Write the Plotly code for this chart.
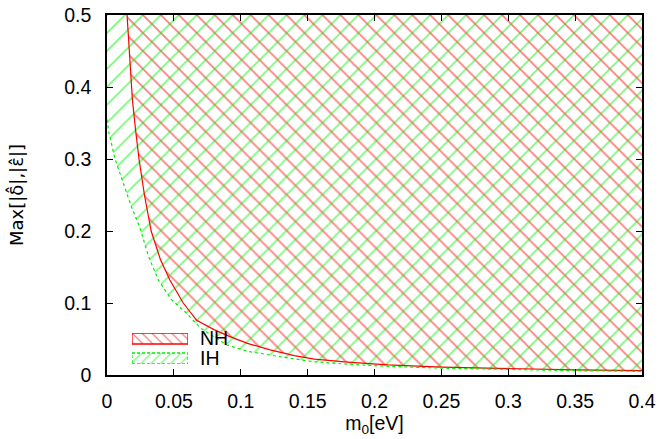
import plotly.graph_objects as go

# NH (normal hierarchy) lower boundary of allowed region
nh_m0 = [0.0150, 0.0170, 0.0190, 0.0215, 0.0240, 0.0280, 0.0330, 0.0400, 0.0470,
         0.0570, 0.0670, 0.0800, 0.0910, 0.1050, 0.1220, 0.1400, 0.1550, 0.1800,
         0.2100, 0.2500, 0.3000, 0.3500, 0.4000]
nh_max = [0.500, 0.440, 0.382, 0.338, 0.299, 0.250, 0.200, 0.160, 0.132,
          0.100, 0.076, 0.063, 0.054, 0.044, 0.035, 0.027, 0.022, 0.018,
          0.014, 0.011, 0.0085, 0.007, 0.006]

# IH (inverted hierarchy) lower boundary of allowed region
ih_m0 = [0.0, 0.0015, 0.0060, 0.0122, 0.0180, 0.0247, 0.0310, 0.0384, 0.0480,
         0.0596, 0.0700, 0.0895, 0.1050, 0.1290, 0.1540, 0.1800, 0.2100, 0.2500,
         0.3000, 0.3500, 0.4000]
ih_max = [0.355, 0.336, 0.300, 0.266, 0.235, 0.204, 0.165, 0.132, 0.105,
          0.0856, 0.065, 0.0417, 0.033, 0.0255, 0.0185, 0.015, 0.012, 0.0095,
          0.0075, 0.006, 0.005]

series_names = ["NH", "IH"]

x_range = [0, 0.4]
y_range = [0, 0.5]
x_ticks = [0, 0.05, 0.1, 0.15, 0.2, 0.25, 0.3, 0.35, 0.4]
x_ticklabels = ["0", "0.05", "0.1", "0.15", "0.2", "0.25", "0.3", "0.35", "0.4"]
y_ticks = [0, 0.1, 0.2, 0.3, 0.4, 0.5]
y_ticklabels = ["0", "0.1", "0.2", "0.3", "0.4", "0.5"]

RED = "#ff0000"
GREEN = "#00ee00"
FONT = "Liberation Sans, Arial, sans-serif"
FS = 19.5
HATCH = 12.7

def region(xs, ys):
    # close polygon along the top of the plotting range
    px = list(xs) + [x_range[1], xs[0]]
    py = list(ys) + [y_range[1], y_range[1]]
    return px, py

fig = go.Figure()

px, py = region(nh_m0, nh_max)
fig.add_trace(go.Scatter(
    x=px, y=py, fill="toself", mode="lines", line=dict(width=0, color=RED),
    fillcolor="rgba(0,0,0,0)",
    fillpattern=dict(shape="\\", fgcolor=RED, bgcolor="rgba(0,0,0,0)", size=HATCH, solidity=0.14),
    showlegend=False, hoverinfo="skip"))

px, py = region(ih_m0, ih_max)
fig.add_trace(go.Scatter(
    x=px, y=py, fill="toself", mode="lines", line=dict(width=0, color=GREEN),
    fillcolor="rgba(0,0,0,0)",
    fillpattern=dict(shape="/", fgcolor=GREEN, bgcolor="rgba(0,0,0,0)", size=HATCH, solidity=0.14),
    showlegend=False, hoverinfo="skip"))

fig.add_trace(go.Scatter(x=nh_m0, y=nh_max, mode="lines",
                         line=dict(color=RED, width=1.2), showlegend=False))
fig.add_trace(go.Scatter(x=ih_m0, y=ih_max, mode="lines",
                         line=dict(color=GREEN, width=1.2, dash="3px,3px"), showlegend=False))

# gnuplot-style key: hatched sample boxes on an invisible overlay subplot
key_box_x = [0, 1, 1, 0, 0]
key_rows = [(0.645, 1.0), (0.0, 0.355)]
key_styles = [(RED, "\\", "solid"), (GREEN, "/", "3px,2px")]
for (y0, y1), (col, shp, dsh) in zip(key_rows, key_styles):
    fig.add_trace(go.Scatter(
        x=key_box_x, y=[y0, y0, y1, y1, y0], xaxis="x2", yaxis="y2",
        mode="lines", fill="toself", fillcolor="rgba(0,0,0,0)",
        fillpattern=dict(shape=shp, fgcolor=col, bgcolor="rgba(0,0,0,0)", size=7, solidity=0.18),
        line=dict(color=col, width=1.3, dash=dsh), showlegend=False, hoverinfo="skip"))

axis_common = dict(showgrid=False, zeroline=False, showline=True, linecolor="black",
                   linewidth=1.5, mirror="ticks", ticks="inside", ticklen=6,
                   tickcolor="black", tickwidth=1, automargin=False,
                   tickfont=dict(family=FONT, size=FS, color="black"))

hidden = dict(visible=False, showgrid=False, zeroline=False, fixedrange=True, automargin=False)

fig.update_layout(
    xaxis=dict(range=x_range, tickvals=x_ticks, ticktext=x_ticklabels, ticklabelstandoff=8,
               title=dict(text="m<sub>0</sub>[eV]", font=dict(family=FONT, size=FS, color="black"),
                          standoff=3),
               **axis_common),
    yaxis=dict(range=y_range, tickvals=y_ticks, ticktext=y_ticklabels, ticklabelstandoff=10,
               title=dict(text="Max[|\u03b4\u0302|,|\u03b5\u0302|]",
                          font=dict(family="DejaVu Sans, Liberation Sans, sans-serif",
                                    size=18, color="black"), standoff=36),
               **axis_common),
    xaxis2=dict(domain=[0.0467, 0.1514], range=[0, 1], anchor="y2", **hidden),
    yaxis2=dict(domain=[0.0306, 0.1167], range=[0, 1], anchor="x2", **hidden),
)

for name, (y0, y1) in zip(series_names, key_rows):
    fig.add_annotation(text=name, xref="x2", yref="y2", x=1.0, y=(y0 + y1) / 2,
                       xanchor="left", yanchor="middle", xshift=10, showarrow=False,
                       font=dict(family=FONT, size=FS, color="black"))

fig.update_layout(
    width=661, height=439, autosize=False,
    margin=dict(l=107, r=19, t=15, b=64, autoexpand=False),
    paper_bgcolor="white", plot_bgcolor="white",
    font=dict(family=FONT, size=FS, color="black"),
    showlegend=False,
)

fig.write_html(
    "out.html",
    config=dict(displayModeBar=False),
    post_script="document.body.style.margin='0';"
                "document.body.style.overflow='hidden';"
                "document.documentElement.style.overflow='hidden';",
)
